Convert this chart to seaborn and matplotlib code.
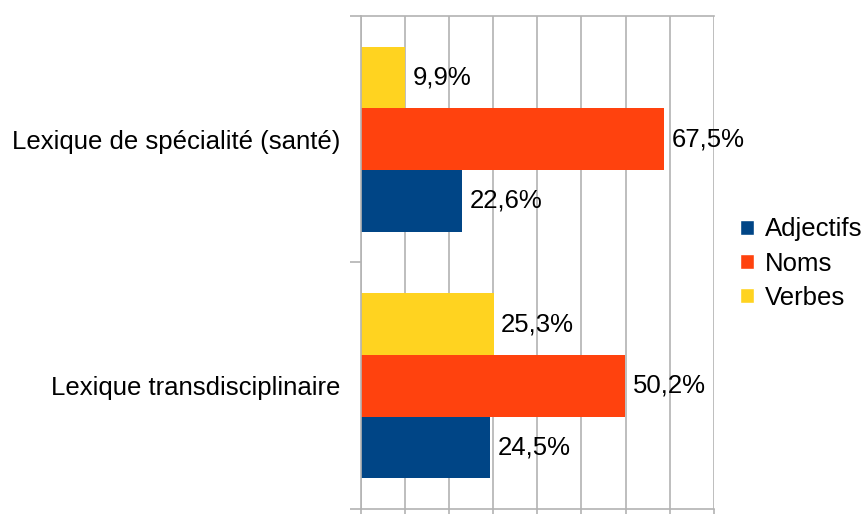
"""
Répartition des catégories grammaticales par lexique
Horizontal grouped bar chart with seaborn
"""

import pandas as pd
import matplotlib
matplotlib.use("Agg")
import matplotlib.pyplot as plt
from matplotlib.patches import Patch
import seaborn as sns

# ----------------------------
# DATA
# ----------------------------
categories = ["Lexique de spécialité (santé)", "Lexique transdisciplinaire"]
series = ["Verbes", "Noms", "Adjectifs"]          # top to bottom inside a group
legend_order = ["Adjectifs", "Noms", "Verbes"]

# bar lengths as drawn on the value axis (0-80)
verbes_len = [10.0, 30.1]
noms_len = [68.7, 59.8]
adjectifs_len = [22.9, 29.3]

# percentages written next to the bars
verbes_lbl = ["9,9%", "25,3%"]
noms_lbl = ["67,5%", "50,2%"]
adjectifs_lbl = ["22,6%", "24,5%"]

colors = {"Adjectifs": "#004586", "Noms": "#FF420E", "Verbes": "#FFD320"}

# ----------------------------
# BUILD TABLE
# ----------------------------
rows = []
for name, vals in zip(series, [verbes_len, noms_len, adjectifs_len]):
    for cat, v in zip(categories, vals):
        rows.append({"lexique": cat, "type": name, "valeur": v})
df = pd.DataFrame(rows)
labels = {"Verbes": verbes_lbl, "Noms": noms_lbl, "Adjectifs": adjectifs_lbl}

# ----------------------------
# PLOT
# ----------------------------
sns.set_style("white")
plt.rcParams["font.family"] = ["Liberation Sans", "DejaVu Sans"]
grid_col = "#b3b3b3"
fs = 18.5

fig = plt.figure(figsize=(8.65, 5.14), dpi=100)
ax = fig.add_axes([0.4168, 0.0097, 0.4087, 0.9598])

sns.barplot(data=df, y="lexique", x="valeur", hue="type", order=categories,
            hue_order=series, palette=colors, orient="h", width=0.75,
            saturation=1, errorbar=None, linewidth=0, ax=ax, legend=False)

for cont, name in zip(ax.containers, series):
    ax.bar_label(cont, labels=labels[name], padding=5.5, fontsize=fs,
                 color="black")

ax.set_xlim(0, 80)
ax.set_ylim(1.5, -0.5)
ax.set_xticks(range(0, 81, 10))
ax.set_xticklabels([])
ax.xaxis.grid(True, color=grid_col, linewidth=1.2)
ax.set_axisbelow(True)
ax.tick_params(axis="x", bottom=True, length=4, width=1.2, color=grid_col,
               direction="out")

ax.set_yticks([-0.5, 0.5, 1.5], minor=True)
ax.tick_params(axis="y", which="minor", left=True, length=8, color=grid_col,
               width=1.2, direction="out")
ax.tick_params(axis="y", which="major", left=True, length=0, pad=14.4,
               labelsize=fs, labelcolor="black")
ax.set_xlabel("")
ax.set_ylabel("")

for side in ["top", "bottom", "left"]:
    ax.spines[side].set_color(grid_col)
    ax.spines[side].set_linewidth(1.2)
ax.spines["right"].set_visible(False)

handles = [Patch(facecolor=colors[n], label=n) for n in legend_order]
leg = fig.legend(handles=handles, loc="center left",
                 bbox_to_anchor=(0.856, 0.487), frameon=False, fontsize=fs,
                 handlelength=0.52, handleheight=0.52, handletextpad=0.45,
                 labelspacing=0.4, borderpad=0, borderaxespad=0)
for t in leg.get_texts():
    t.set_color("black")

fig.savefig("out.png", dpi=100)
